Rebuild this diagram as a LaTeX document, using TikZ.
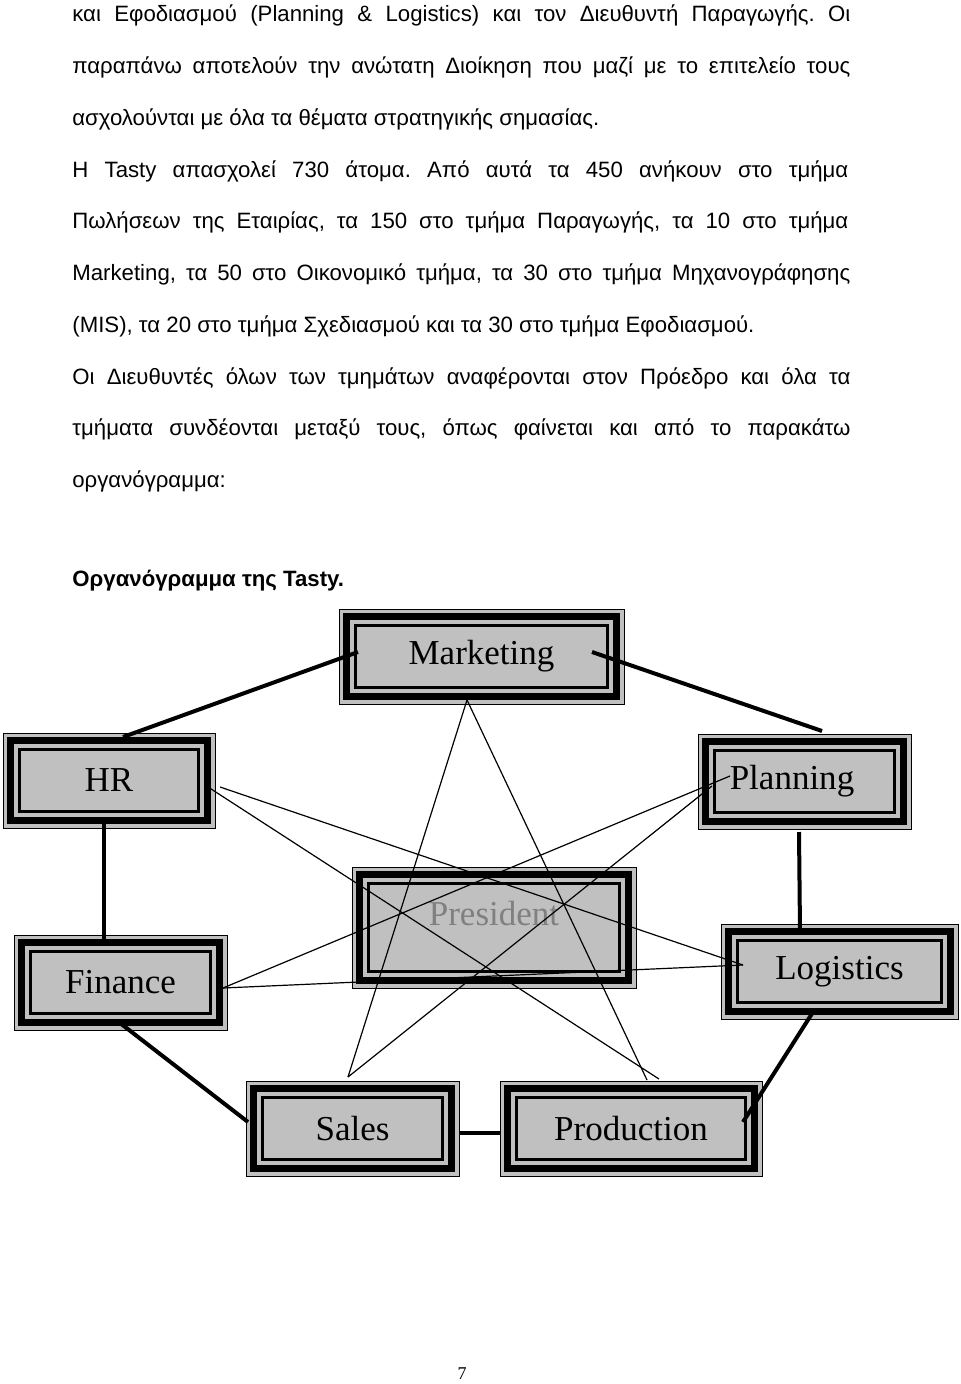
\documentclass[tikz,border=0pt]{standalone}
\usepackage{fontspec}
\setmainfont{Liberation Sans}
\newfontfamily\boxfont{Liberation Serif}
\definecolor{boxgray}{HTML}{C0C0C0}
\definecolor{presgray}{HTML}{808080}
\tikzset{
  orgbox/.style={rectangle, draw=black, line width=0.5pt, fill=boxgray,
    inner sep=0pt, outer sep=0pt, minimum height=47.5pt,
    font=\boxfont\fontsize{17.5pt}{20pt}\selectfont,
    path picture={
      \draw[line width=3.5pt]
        ([shift={(3.75pt,-3.75pt)}]path picture bounding box.north west) rectangle
        ([shift={(-3.75pt,3.75pt)}]path picture bounding box.south east);
      \draw[line width=1.25pt]
        ([shift={(8.25pt,-8.25pt)}]path picture bounding box.north west) rectangle
        ([shift={(-8.25pt,8.25pt)}]path picture bounding box.south east);
    }},
  thickline/.style={line width=2pt},
  thinline/.style={line width=0.6pt},
  bodyline/.style={anchor=base west, inner sep=0pt, font=\fontsize{11.1pt}{13pt}\selectfont},
}
\frenchspacing
\begin{document}
\begin{tikzpicture}[x=0.5pt,y=-0.5pt]
\useasboundingbox (0,0) rectangle (960,1384);
% body text
\node[bodyline] (l1) at (72,22) {\makebox[389pt][s]{και Εφοδιασμού (Planning \& Logistics) και τον Διευθυντή Παραγωγής. Οι}};
\node[bodyline] (l2) at (72,73.75) {\makebox[389pt][s]{παραπάνω αποτελούν την ανώτατη Διοίκηση που μαζί με το επιτελείο τους}};
\node[bodyline] (l3) at (72,125.5) {ασχολούνται με όλα τα θέματα στρατηγικής σημασίας.};
\node[bodyline] (l4) at (72,177.25) {\makebox[388pt][s]{Η Tasty απασχολεί 730 άτομα. Από αυτά τα 450 ανήκουν στο τμήμα}};
\node[bodyline] (l5) at (72,229) {\makebox[388pt][s]{Πωλήσεων της Εταιρίας, τα 150 στο τμήμα Παραγωγής, τα 10 στο τμήμα}};
\node[bodyline] (l6) at (72,280.75) {\makebox[389pt][s]{Marketing, τα 50 στο Οικονομικό τμήμα, τα 30 στο τμήμα Μηχανογράφησης}};
\node[bodyline] (l7) at (72,332.5) {(MIS), τα 20 στο τμήμα Σχεδιασμού και τα 30 στο τμήμα Εφοδιασμού.};
\node[bodyline] (l8) at (72,384.25) {\makebox[389pt][s]{Οι Διευθυντές όλων των τμημάτων αναφέρονται στον Πρόεδρο και όλα τα}};
\node[bodyline] (l9) at (72,436) {\makebox[389pt][s]{τμήματα συνδέονται μεταξύ τους, όπως φαίνεται και από το παρακάτω}};
\node[bodyline] (l10) at (72,487.75) {οργανόγραμμα:};
\node[bodyline, font=\bfseries\fontsize{11.1pt}{13pt}\selectfont] (head) at (72,586) {Οργανόγραμμα της Tasty.};
% boxes
\node[orgbox, minimum width=142.5pt] (mkt) at (481.5,656.5) {Marketing};
\node[orgbox, minimum width=106pt] (hr) at (109,780.5) {HR};
\node[orgbox, minimum width=106.5pt] (pln) at (804.5,781.5) {Planning\hspace*{12.5pt}};
\node[orgbox, minimum width=142pt, minimum height=60.5pt] (pres) at (494,927.5) {\textcolor{presgray}{\raisebox{7pt}[\height][\depth]{President}}};
\node[orgbox, minimum width=106.5pt] (fin) at (120.5,982.5) {Finance};
\node[orgbox, minimum width=118.5pt] (log) at (839.5,971.5) {Logistics};
\node[orgbox, minimum width=106.5pt] (sal) at (352.5,1128.5) {Sales};
\node[orgbox, minimum width=131pt] (pro) at (631,1128.5) {Production};
% thick connectors (outer ring)
\draw[thickline] ([shift={(14,-43.5)}]hr.center) -- ([shift={(-123.5,-4.5)}]mkt.center);
\draw[thickline] ([shift={(110.5,-4.5)}]mkt.center) -- ([shift={(17.5,-50.5)}]pln.center);
\draw[thickline] ([shift={(-5,39.5)}]hr.center) -- ([shift={(-16.5,-42.5)}]fin.center);
\draw[thickline] ([shift={(-5.5,50.5)}]pln.center) -- ([shift={(-39.5,-39.5)}]log.center);
\draw[thickline] ([shift={(-0.5,40.5)}]fin.center) -- ([shift={(-104.5,-6.5)}]sal.center);
\draw[thickline] ([shift={(-26.5,40.5)}]log.center) -- ([shift={(112,-6.5)}]pro.center);
\draw[thickline] ([shift={(106.5,4.5)}]sal.center) -- ([shift={(-131,4.5)}]pro.center);
% thin connectors (star)
\draw[thinline] ([shift={(-14.5,43.5)}]mkt.center) -- ([shift={(-4.5,-51.5)}]sal.center);
\draw[thinline] ([shift={(-14.5,43.5)}]mkt.center) -- ([shift={(16,-48.5)}]pro.center);
\draw[thinline] ([shift={(99,6.5)}]hr.center) -- ([shift={(28,-49.5)}]pro.center);
\draw[thinline] ([shift={(111,6.5)}]hr.center) -- ([shift={(-96.5,-6.5)}]log.center);
\draw[thinline] ([shift={(102.5,5.5)}]fin.center) -- ([shift={(-74.5,-5.5)}]pln.center);
\draw[thinline] ([shift={(102.5,5.5)}]fin.center) -- ([shift={(-96.5,-6.5)}]log.center);
\draw[thinline] ([shift={(-4.5,-51.5)}]sal.center) -- ([shift={(-92.5,4.5)}]pln.center);
% page number
\node[inner sep=0pt, font=\boxfont\fontsize{9pt}{10pt}\selectfont] (pnum) at (462,1374) {7};
\end{tikzpicture}
\end{document}
